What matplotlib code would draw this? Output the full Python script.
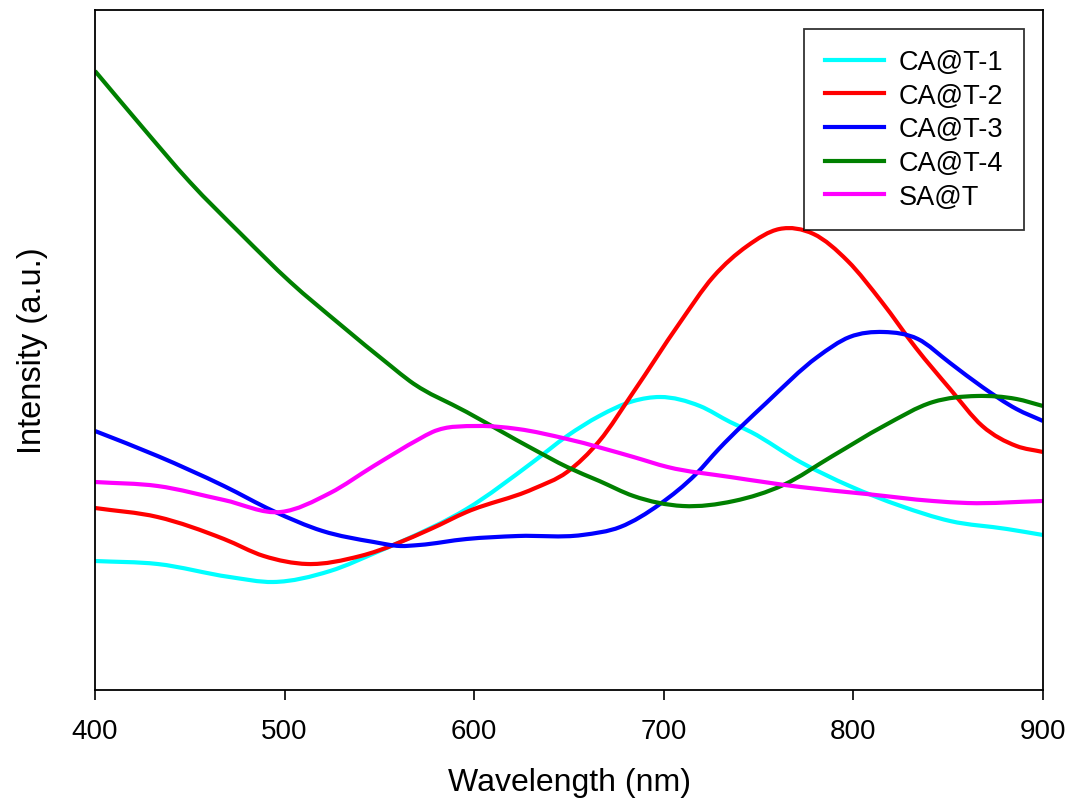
import matplotlib
matplotlib.use("Agg")
import matplotlib.pyplot as plt
import numpy as np
from matplotlib.path import Path
from matplotlib.patches import PathPatch
from matplotlib.lines import Line2D

plt.rcParams['font.family'] = ['Liberation Sans', 'DejaVu Sans']

wl_c1 = [400, 433, 471, 494, 524, 550, 561, 596, 631, 649, 666, 684, 698, 719, 735, 746, 772, 798, 825, 851, 881, 900]
ca1 = [129, 126, 113, 108, 119, 139, 148, 181, 228, 254, 274, 289, 293, 284, 268, 258, 228, 204, 184, 169, 161, 155]

wl_c2 = [400, 433, 468, 489, 512, 540, 577, 596, 631, 649, 666, 684, 708, 726, 744, 761, 779, 797, 815, 833, 851, 868, 886, 900]
ca2 = [182, 173, 151, 134, 126, 134, 161, 178, 201, 218, 249, 298, 366, 413, 444, 461, 456, 429, 388, 342, 301, 264, 244, 238]

wl_c3 = [400, 433, 468, 494, 520, 547, 561, 571, 596, 623, 657, 677, 698, 717, 729, 754, 781, 798, 816, 834, 851, 868, 886, 900]
ca3 = [259, 234, 204, 179, 159, 148, 144, 145, 151, 154, 155, 163, 186, 216, 241, 287, 333, 353, 358, 351, 327, 303, 281, 269]

wl_c4 = [400, 424, 450, 477, 503, 529, 556, 566, 596, 631, 649, 666, 684, 710, 737, 763, 789, 816, 842, 865, 886, 900]
ca4 = [619, 565, 508, 456, 408, 366, 324, 309, 278, 241, 223, 209, 194, 184, 189, 205, 234, 264, 288, 294, 291, 284]

wl_sa = [400, 433, 468, 498, 524, 547, 571, 578, 602, 623, 649, 684, 702, 735, 772, 807, 842, 860, 900]
sa = [208, 204, 190, 178, 197, 224, 251, 258, 264, 261, 251, 233, 223, 213, 203, 196, 189, 187, 189]

labels = ["CA@T-1", "CA@T-2", "CA@T-3", "CA@T-4", "SA@T"]
colors = ["#00FFFF", "#FF0000", "#0000FF", "#008000", "#FF00FF"]
xticks = [400, 500, 600, 700, 800, 900]


def smooth_path(x, y):
    """Cubic Bezier path through the data points (Hermite tangents)."""
    x = np.asarray(x, float)
    y = np.asarray(y, float)
    m = np.gradient(y, x)
    verts = [(x[0], y[0])]
    codes = [Path.MOVETO]
    for i in range(len(x) - 1):
        h = x[i + 1] - x[i]
        verts += [(x[i] + h / 3, y[i] + m[i] * h / 3),
                  (x[i + 1] - h / 3, y[i + 1] - m[i + 1] * h / 3),
                  (x[i + 1], y[i + 1])]
        codes += [Path.CURVE4] * 3
    return Path(verts, codes)


fig = plt.figure(figsize=(10.67, 8.03), dpi=100)
ax = fig.add_axes([95/1067, 1-691/803, (1043-95)/1067, (691-11)/803])

series = [(wl_c1, ca1), (wl_c2, ca2), (wl_c3, ca3), (wl_c4, ca4), (wl_sa, sa)]
handles = []
for (x, y), lab, col in zip(series, labels, colors):
    patch = PathPatch(smooth_path(x, y), facecolor='none', edgecolor=col, lw=3,
                      capstyle='butt', joinstyle='round')
    ax.add_patch(patch)
    handles.append(Line2D([], [], color=col, lw=3, label=lab))

ax.set_xlim(400, 900)
ax.set_ylim(0, 680)
ax.set_xticks(xticks)
ax.set_yticks([])
ax.tick_params(axis='x', direction='out', length=7, width=1.2, labelsize=20, pad=13)
for s in ax.spines.values():
    s.set_linewidth(1.3)
ax.set_xlabel("Wavelength (nm)", fontsize=23, labelpad=17)
ax.set_ylabel("Intensity (a.u.)", fontsize=23.5, labelpad=34)

leg = ax.legend(handles=handles, loc='upper right', fontsize=19.5, frameon=True, fancybox=False,
                edgecolor='black', handlelength=2.2, handletextpad=0.55,
                labelspacing=0.28, borderpad=0.75, borderaxespad=0.7)
leg.get_frame().set_linewidth(1.3)

fig.savefig("out.png", dpi=100)
